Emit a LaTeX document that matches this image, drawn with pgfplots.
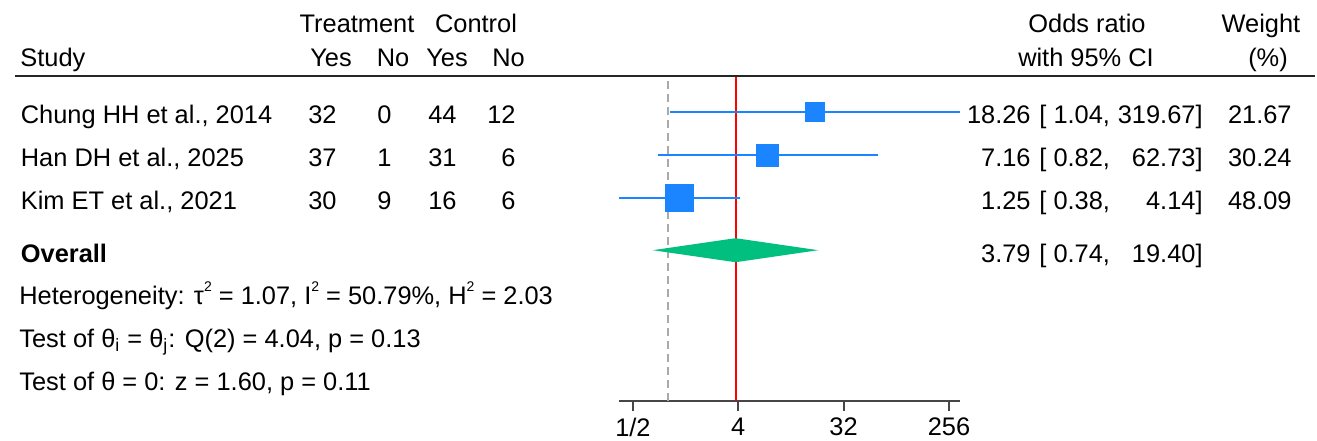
\documentclass[border=0pt]{standalone}
\usepackage{fontspec}
\setmainfont{Liberation Sans}
\usepackage{pgfplots}
\pgfplotsset{compat=1.18}
\definecolor{stblue}{RGB}{26,133,255}
\definecolor{stgreen}{RGB}{0,191,127}
\definecolor{axgray}{RGB}{70,70,70}
\definecolor{refred}{RGB}{255,0,0}
\definecolor{dashgray}{RGB}{170,170,170}
\newcommand{\fs}{\fontsize{12.7}{15}\selectfont}
\newcommand{\sq}{\raisebox{0.95ex}{\fontsize{7}{8}\selectfont 2}}
\begin{document}
\begin{tikzpicture}
\useasboundingbox (0,0) rectangle (658.5pt,-220pt);
\begin{axis}[
  at={(309.5pt,-200.5pt)}, anchor=south west,
  scale only axis, width=170.6pt, height=162pt,
  xmode=log, log basis x=2, xmin=0.38, xmax=319.67,
  ymin=-401, ymax=-77,
  axis x line*=bottom, axis y line=none,
  xtick={0.5,4,32,256}, xticklabels={1/2,4,32,256},
  xminorticks=false,
  xtick align=outside, major tick length=5pt,
  x axis line style={-, axgray, line width=0.9pt},
  every tick/.style={axgray, line width=0.9pt},
  tick label style={font=\fs},
  clip=false,
]
% reference lines
\addplot[color=dashgray, line width=0.8pt, dash pattern=on 4pt off 2.5pt] coordinates {(1,-401) (1,-77)};
\addplot[color=refred, line width=1pt, solid] coordinates {(3.79,-401) (3.79,-77)};
% confidence intervals
\addplot[color=stblue, line width=0.8pt] coordinates {(1.04,-112.7) (319.67,-112.7)};
\addplot[color=stblue, line width=0.8pt] coordinates {(0.82,-155.7) (62.73,-155.7)};
\addplot[color=stblue, line width=0.8pt] coordinates {(0.38,-198.5) (4.14,-198.5)};
% study estimates (marker size ~ weight)
\addplot[only marks, mark=square*, mark size=4.83pt, mark options={fill=stblue, draw=stblue, line width=0pt}] coordinates {(18.26,-112.7)};
\addplot[only marks, mark=square*, mark size=5.58pt, mark options={fill=stblue, draw=stblue, line width=0pt}] coordinates {(7.16,-155.7)};
\addplot[only marks, mark=square*, mark size=6.93pt, mark options={fill=stblue, draw=stblue, line width=0pt}] coordinates {(1.25,-198.5)};
% overall diamond
\addplot[fill=stgreen, draw=none] coordinates {(0.74,-250.5) (3.79,-238.5) (19.40,-250.5) (3.79,-262.5)} -- cycle;
\end{axis}
\begin{scope}[x=0.5pt,y=-0.5pt, every node/.style={font=\fs, inner sep=0pt}]
\draw[line width=1pt, black!85] (15,76) -- (1315,76);
% headers
\node[anchor=base] at (357,32) {Treatment};
\node[anchor=base] at (476,32) {Control};
\node[anchor=base west] at (20,66.5) {Study};
\node[anchor=base] at (331,66.5) {Yes};
\node[anchor=base] at (393,66.5) {No};
\node[anchor=base] at (447,66.5) {Yes};
\node[anchor=base] at (508.5,66.5) {No};
\node[anchor=base] at (1087,32) {Odds ratio};
\node[anchor=base] at (1086,66.5) {with 95\% CI};
\node[anchor=base] at (1261,32) {Weight};
\node[anchor=base] at (1268,66.5) {(\%)};
% rows
\node[anchor=base west] at (20.5,123.3) {Chung HH et al., 2014};
\node[anchor=base west] at (20.5,166.3) {Han DH et al., 2025};
\node[anchor=base west] at (20.5,209.3) {Kim ET et al., 2021};
\node[anchor=base west] at (20.5,262) {\textbf{Overall}};
\node[anchor=base east] at (337,123.3) {32};
\node[anchor=base east] at (392,123.3) {0};
\node[anchor=base east] at (457,123.3) {44};
\node[anchor=base east] at (516,123.3) {12};
\node[anchor=base east] at (337,166.3) {37};
\node[anchor=base east] at (392,166.3) {1};
\node[anchor=base east] at (457,166.3) {31};
\node[anchor=base east] at (516,166.3) {6};
\node[anchor=base east] at (337,209.3) {30};
\node[anchor=base east] at (392,209.3) {9};
\node[anchor=base east] at (457,209.3) {16};
\node[anchor=base east] at (516,209.3) {6};
% OR column
\node[anchor=base east] at (1031,123.3) {18.26};
\node[anchor=base west] at (1039,123.3) {[ 1.04,};
\node[anchor=base east] at (1203,123.3) {319.67]};
\node[anchor=base east] at (1292,123.3) {21.67};
\node[anchor=base east] at (1031,166.3) {7.16};
\node[anchor=base west] at (1039,166.3) {[ 0.82,};
\node[anchor=base east] at (1203,166.3) {62.73]};
\node[anchor=base east] at (1292,166.3) {30.24};
\node[anchor=base east] at (1031,209.3) {1.25};
\node[anchor=base west] at (1039,209.3) {[ 0.38,};
\node[anchor=base east] at (1203,209.3) {4.14]};
\node[anchor=base east] at (1292,209.3) {48.09};
\node[anchor=base east] at (1031,262) {3.79};
\node[anchor=base west] at (1039,262) {[ 0.74,};
\node[anchor=base east] at (1203,262) {19.40]};
% statistics
\node[anchor=base west] at (19,304) {Heterogeneity: τ\sq{} = 1.07, I\sq{} = 50.79\%, H\sq{} = 2.03};
\node[anchor=base west] at (19,347) {Test of θ\textsubscript{i} = θ\textsubscript{j}: Q(2) = 4.04, p = 0.13};
\node[anchor=base west] at (19,390) {Test of θ = 0: z = 1.60, p = 0.11};
\end{scope}
\end{tikzpicture}
\end{document}
